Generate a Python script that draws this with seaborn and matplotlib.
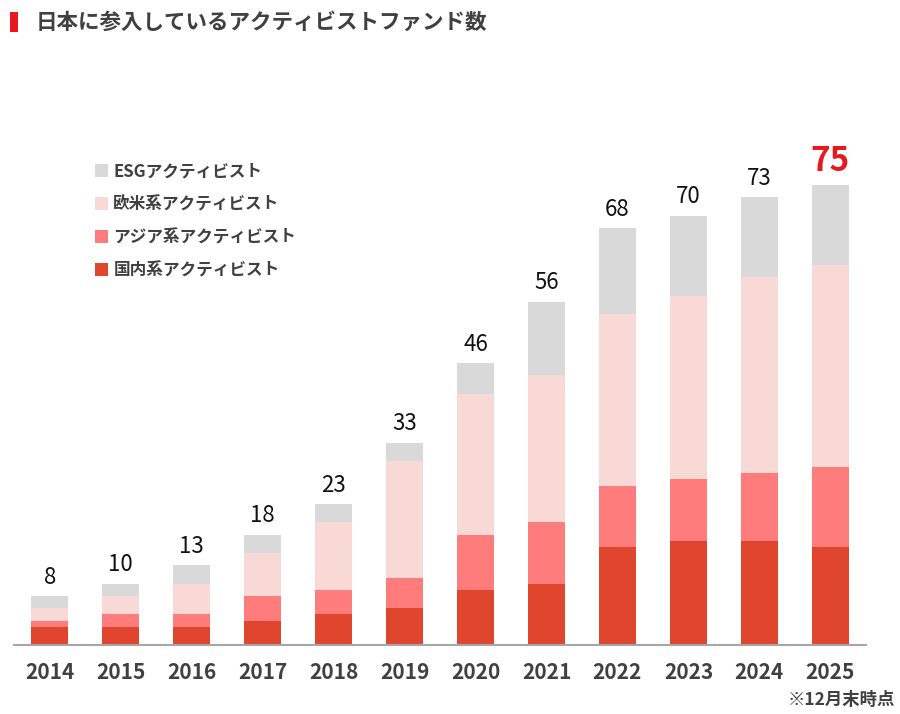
import numpy as np
import pandas as pd
import seaborn as sns
import matplotlib.pyplot as plt
from matplotlib.patches import Patch

years = ['2014', '2015', '2016', '2017', '2018', '2019', '2020', '2021', '2022', '2023', '2024', '2025']
domestic = [3, 3, 3, 4, 5, 6, 9, 10, 16, 17, 17, 16]
asia = [1, 2, 2, 4, 4, 5, 9, 10, 10, 10, 11, 13]
western = [2, 3, 5, 7, 11, 19, 23, 24, 28, 30, 32, 33]
esg = [2, 2, 3, 3, 3, 3, 5, 12, 14, 13, 13, 13]

series_names = ['国内系アクティビスト', 'アジア系アクティビスト', '欧米系アクティビスト', 'ESGアクティビスト']
colors = ['#E0452E', '#FF7C7C', '#F8D9D6', '#D9D9D9']

sns.set_theme(style='white')
plt.rcParams['font.family'] = ['Noto Sans CJK JP', 'DejaVu Sans']

df = pd.DataFrame({'year': years, 'domestic': domestic, 'asia': asia,
                   'western': western, 'esg': esg})
layers = ['domestic', 'asia', 'western', 'esg']
cum = df[layers].cumsum(axis=1)
df['total'] = cum['esg']

fig = plt.figure(figsize=(9, 7.14), dpi=100)
ax = fig.add_axes([0.016, 0.0966, 0.946, 0.687])

# draw cumulative layers from the top down so that they stack
for name, color in reversed(list(zip(layers, colors))):
    sns.barplot(x=df['year'], y=cum[name], color=color, width=0.52,
                ax=ax, saturation=1, edgecolor='none')

for i, t in enumerate(df['total']):
    if i == len(df) - 1:
        ax.text(i, t + 1.2, str(t), ha='center', va='bottom', fontsize=24,
                fontweight='bold', color='#E8191E', clip_on=False)
    else:
        ax.text(i, t + 1.2, str(t), ha='center', va='bottom', fontsize=16,
                color='#111111', clip_on=False)

ax.set_ylim(0, 80)
ax.set_xlim(-0.5, len(years) - 0.5)
ax.set_xlabel('')
ax.set_ylabel('')
ax.set_yticks([])
ax.tick_params(axis='x', length=0, pad=12)
for lbl in ax.get_xticklabels():
    lbl.set_fontsize(15)
    lbl.set_fontweight('bold')
    lbl.set_color('#404040')
for s in ['top', 'right', 'left']:
    ax.spines[s].set_visible(False)
ax.spines['bottom'].set_color('#A6A6A6')
ax.spines['bottom'].set_linewidth(1.5)

handles = [Patch(facecolor=c, edgecolor='none') for c in reversed(colors)]
leg = ax.legend(handles, list(reversed(series_names)), loc='upper left',
                bbox_to_anchor=(0.077, 1.015), frameon=False,
                handlelength=0.8, handleheight=0.8, handletextpad=0.3,
                labelspacing=0.9, prop={'size': 12, 'weight': 'bold'})
for txt in leg.get_texts():
    txt.set_color('#404040')

fig.patches.append(plt.Rectangle((0.011, 0.955), 0.009, 0.028, transform=fig.transFigure,
                                 facecolor='#E8191E', edgecolor='none'))
fig.text(0.04, 0.969, '日本に参入しているアクティビストファンド数', fontsize=15.5,
         fontweight='bold', color='#404040', va='center', ha='left')
fig.text(0.995, 0.02, '※12月末時点', fontsize=12.5, fontweight='bold',
         color='#404040', ha='right', va='center')

fig.savefig('out.png', dpi=100)
